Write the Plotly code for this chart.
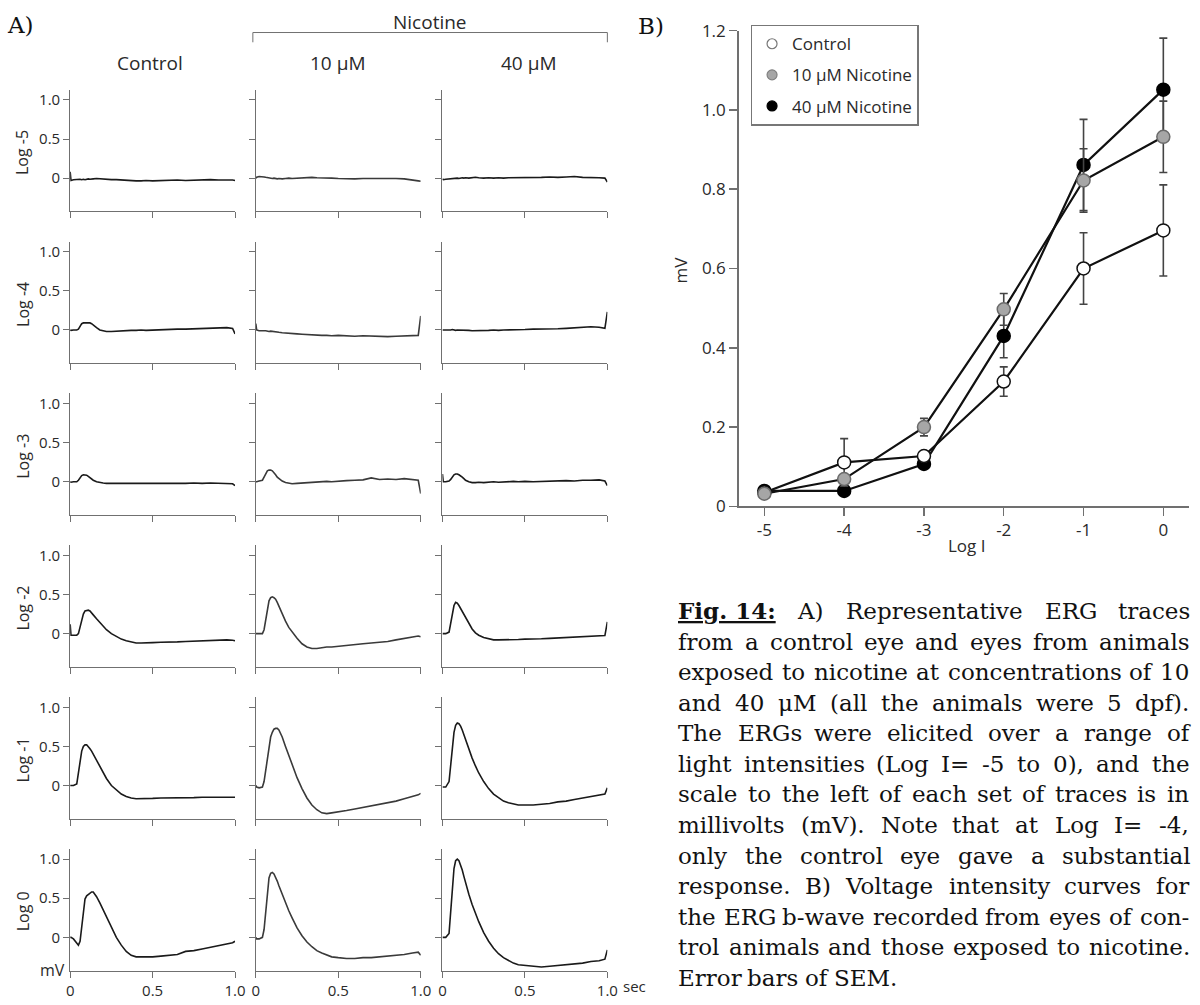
import plotly.graph_objects as go

# ---------------- Panel A data (ERG traces, mV vs seconds) ----------------
TIME_S = [0.000, 0.005, 0.02, 0.04, 0.05, 0.06, 0.07, 0.08, 0.09, 0.10,
          0.11, 0.12, 0.13, 0.14, 0.16, 0.18, 0.20, 0.22, 0.25, 0.28,
          0.31, 0.34, 0.37, 0.40, 0.43, 0.46, 0.50, 0.55, 0.60, 0.65,
          0.70, 0.75, 0.80, 0.85, 0.90, 0.95, 0.985, 1.000]

ROW_LABELS = ["Log -5", "Log -4", "Log -3", "Log -2", "Log -1", "Log 0"]
COL_TITLES = ["Control", "10 μM", "40 μM"]
Y_TICKS_A = [0, 0.5, 1.0]
Y_TICKTEXT_A = ["0", "0.5", "1.0"]
X_TICKS_A = [0, 0.5, 1.0]
X_TICKTEXT_A = ["0", "0.5", "1.0"]

ctrl_m5 = [0.08, -0.03, -0.02, -0.015, -0.02, -0.015, -0.02, -0.015, -0.02, -0.015,
           -0.01, -0.015, -0.01, -0.01, -0.005, -0.01, -0.01, -0.015, -0.02, -0.02,
           -0.025, -0.03, -0.03, -0.035, -0.035, -0.03, -0.035, -0.03, -0.03, -0.025,
           -0.03, -0.025, -0.025, -0.02, -0.025, -0.02, -0.025, -0.03]
nic10_m5 = [0.0, 0.01, 0.02, 0.02, 0.015, 0.01, 0.005, 0.0, 0.0, -0.005,
            0.0, -0.005, -0.01, -0.005, -0.01, -0.005, 0.0, -0.005, 0.0, 0.005,
            0.005, 0.01, 0.005, 0.005, 0.0, 0.0, -0.005, -0.01, -0.01, -0.005,
            -0.005, 0.0, 0.0, -0.005, -0.01, -0.03, -0.035, -0.04]
nic40_m5 = [-0.01, -0.02, -0.015, -0.01, -0.01, -0.005, -0.01, -0.005, 0.0, -0.005,
            0.0, 0.005, 0.0, 0.005, 0.0, 0.005, 0.01, 0.005, 0.0, 0.005,
            0.0, 0.005, 0.0, 0.005, 0.005, 0.01, 0.005, 0.01, 0.01, 0.015,
            0.01, 0.015, 0.02, 0.01, 0.01, 0.005, 0.0, -0.05]

ctrl_m4 = [0.0, -0.005, 0.0, 0.0, 0.01, 0.04, 0.08, 0.09, 0.09, 0.09,
           0.09, 0.09, 0.08, 0.06, 0.03, 0.0, -0.01, -0.02, -0.02, -0.015,
           -0.01, -0.01, -0.005, -0.005, 0.0, -0.005, 0.0, 0.005, 0.005, 0.01,
           0.01, 0.015, 0.02, 0.02, 0.025, 0.03, 0.02, -0.05]
nic10_m4 = [0.08, 0.0, -0.01, -0.005, -0.01, -0.01, -0.015, -0.02, -0.015, -0.02,
            -0.02, -0.025, -0.03, -0.03, -0.035, -0.04, -0.045, -0.05, -0.05, -0.055,
            -0.06, -0.06, -0.065, -0.07, -0.07, -0.075, -0.07, -0.075, -0.08, -0.075,
            -0.08, -0.08, -0.085, -0.08, -0.075, -0.075, -0.07, 0.18]
nic40_m4 = [0.0, 0.0, -0.005, 0.0, 0.0, 0.005, 0.0, -0.005, 0.0, 0.0,
            -0.005, 0.0, -0.005, 0.0, -0.005, -0.01, -0.01, -0.005, -0.01, -0.005,
            0.0, -0.005, 0.0, 0.0, 0.005, 0.0, 0.005, 0.01, 0.01, 0.015,
            0.015, 0.02, 0.025, 0.03, 0.04, 0.035, 0.02, 0.23]

ctrl_m3 = [0.0, -0.005, 0.0, 0.0, 0.02, 0.05, 0.08, 0.09, 0.09, 0.085,
           0.07, 0.05, 0.035, 0.02, 0.0, -0.01, -0.015, -0.02, -0.02, -0.02,
           -0.025, -0.02, -0.025, -0.02, -0.02, -0.025, -0.02, -0.02, -0.025, -0.02,
           -0.02, -0.015, -0.02, -0.015, -0.02, -0.02, -0.025, -0.05]
nic10_m3 = [0.0, 0.0, 0.01, 0.02, 0.06, 0.11, 0.14, 0.15, 0.15, 0.14,
            0.12, 0.09, 0.06, 0.04, 0.01, -0.01, -0.02, -0.025, -0.02, -0.015,
            -0.01, -0.005, 0.0, 0.0, 0.005, 0.0, 0.01, 0.015, 0.02, 0.025,
            0.05, 0.03, 0.035, 0.03, 0.04, 0.03, 0.02, -0.15]
nic40_m3 = [0.1, 0.0, 0.0, 0.01, 0.03, 0.07, 0.09, 0.1, 0.1, 0.09,
            0.08, 0.06, 0.04, 0.02, 0.0, -0.01, -0.01, -0.005, -0.01, -0.005,
            0.0, -0.005, 0.0, 0.0, 0.005, 0.0, 0.005, 0.0, 0.005, 0.01,
            0.01, 0.015, 0.01, 0.02, 0.02, 0.025, 0.01, -0.05]

ctrl_m2 = [0.12, -0.02, -0.02, -0.02, 0.0, 0.08, 0.18, 0.25, 0.29, 0.30,
           0.30, 0.29, 0.27, 0.24, 0.19, 0.14, 0.09, 0.05, 0.0, -0.04,
           -0.07, -0.09, -0.11, -0.12, -0.12, -0.12, -0.115, -0.11, -0.11, -0.105,
           -0.1, -0.095, -0.09, -0.085, -0.08, -0.08, -0.085, -0.09]
nic10_m2 = [0.0, 0.0, 0.0, 0.0, 0.05, 0.18, 0.32, 0.42, 0.46, 0.47,
            0.46, 0.44, 0.40, 0.35, 0.25, 0.16, 0.08, 0.02, -0.06, -0.13,
            -0.17, -0.19, -0.19, -0.18, -0.17, -0.17, -0.16, -0.15, -0.14, -0.13,
            -0.12, -0.11, -0.1, -0.08, -0.06, -0.04, -0.03, -0.04]
nic40_m2 = [0.0, 0.0, 0.0, 0.02, 0.12, 0.26, 0.36, 0.40, 0.39, 0.36,
            0.32, 0.28, 0.24, 0.20, 0.12, 0.06, 0.01, -0.02, -0.05, -0.07,
            -0.08, -0.08, -0.08, -0.08, -0.08, -0.075, -0.07, -0.07, -0.065, -0.06,
            -0.055, -0.05, -0.045, -0.04, -0.035, -0.03, -0.025, 0.15]

ctrl_m1 = [0.0, 0.0, 0.0, 0.02, 0.15, 0.32, 0.44, 0.50, 0.52, 0.52,
           0.50, 0.47, 0.44, 0.40, 0.32, 0.24, 0.16, 0.09, 0.0, -0.06,
           -0.11, -0.14, -0.16, -0.17, -0.17, -0.17, -0.165, -0.16, -0.16, -0.155,
           -0.16, -0.155, -0.15, -0.15, -0.15, -0.145, -0.15, -0.15]
nic10_m1 = [0.0, -0.02, -0.03, -0.02, 0.05, 0.2, 0.38, 0.52, 0.62, 0.68,
            0.72, 0.73, 0.73, 0.71, 0.62, 0.50, 0.38, 0.26, 0.10, -0.04,
            -0.16, -0.25, -0.31, -0.35, -0.36, -0.35, -0.34, -0.32, -0.30, -0.28,
            -0.26, -0.24, -0.22, -0.2, -0.17, -0.14, -0.12, -0.1]
nic40_m1 = [-0.02, -0.02, -0.02, 0.05, 0.25, 0.50, 0.68, 0.77, 0.80, 0.79,
            0.76, 0.71, 0.65, 0.58, 0.46, 0.35, 0.25, 0.16, 0.05, -0.04,
            -0.11, -0.16, -0.20, -0.22, -0.24, -0.25, -0.25, -0.25, -0.24, -0.23,
            -0.21, -0.2, -0.18, -0.16, -0.14, -0.12, -0.11, -0.03]

ctrl_0 = [0.0, 0.0, -0.02, -0.08, -0.1, -0.05, 0.15, 0.35, 0.49, 0.53,
          0.55, 0.57, 0.58, 0.58, 0.52, 0.44, 0.35, 0.26, 0.12, 0.0,
          -0.1, -0.18, -0.23, -0.25, -0.25, -0.25, -0.25, -0.24, -0.23, -0.22,
          -0.18, -0.17, -0.15, -0.13, -0.11, -0.09, -0.07, -0.05]
nic10_0 = [0.0, -0.02, -0.02, 0.0, 0.1, 0.35, 0.6, 0.76, 0.82, 0.83,
           0.81, 0.77, 0.72, 0.66, 0.55, 0.44, 0.34, 0.25, 0.12, 0.02,
           -0.06, -0.12, -0.17, -0.2, -0.23, -0.25, -0.26, -0.27, -0.27, -0.26,
           -0.26, -0.25, -0.24, -0.23, -0.22, -0.2, -0.19, -0.23]
nic40_0 = [0.0, 0.0, 0.0, 0.05, 0.3, 0.65, 0.88, 0.98, 1.0, 0.98,
           0.93, 0.86, 0.78, 0.70, 0.55, 0.42, 0.30, 0.2, 0.06, -0.05,
           -0.14, -0.21, -0.26, -0.3, -0.33, -0.35, -0.36, -0.37, -0.38, -0.37,
           -0.36, -0.35, -0.34, -0.33, -0.31, -0.3, -0.28, -0.16]

TRACES_A = [
    [ctrl_m5, nic10_m5, nic40_m5],
    [ctrl_m4, nic10_m4, nic40_m4],
    [ctrl_m3, nic10_m3, nic40_m3],
    [ctrl_m2, nic10_m2, nic40_m2],
    [ctrl_m1, nic10_m1, nic40_m1],
    [ctrl_0, nic10_0, nic40_0],
]

# ---------------- Panel B data ----------------
LOG_I = [-5, -4, -3, -2, -1, 0]
LOG_I_TICKTEXT = ["-5", "-4", "-3", "-2", "-1", "0"]
MV_TICKS = [0, 0.2, 0.4, 0.6, 0.8, 1.0, 1.2]
MV_TICKTEXT = ["0", "0.2", "0.4", "0.6", "0.8", "1.0", "1.2"]
CONTROL_MV = [0.035, 0.111, 0.127, 0.315, 0.600, 0.696]
CONTROL_SEM = [0.0, 0.060, 0.012, 0.037, 0.090, 0.115]
NIC10_MV = [0.032, 0.069, 0.200, 0.497, 0.822, 0.932]
NIC10_SEM = [0.0, 0.0, 0.022, 0.040, 0.080, 0.090]
NIC40_MV = [0.039, 0.039, 0.107, 0.430, 0.861, 1.051]
NIC40_SEM = [0.0, 0.0, 0.0, 0.055, 0.115, 0.130]
SERIES_NAMES = ["Control", "10 μM Nicotine", "40 μM Nicotine"]

CAPTION_LINES = [
    "Fig. 14: A) Representative ERG traces",
    "from a control eye and eyes from animals",
    "exposed to nicotine at concentrations of 10",
    "and 40 μM (all the animals were 5 dpf).",
    "The ERGs were elicited over a range of",
    "light intensities (Log I= -5 to 0), and the",
    "scale to the left of each set of traces is in",
    "millivolts (mV). Note that at Log I= -4,",
    "only the control eye gave a substantial",
    "response. B) Voltage intensity curves for",
    "the ERG b-wave recorded from eyes of con-",
    "trol animals and those exposed to nicotine.",
    "Error bars of SEM.",
]

# ---------------- Layout helpers ----------------
FW, FH = 1200, 1005


def px(x):
    return x / FW


def py(y):
    return 1 - y / FH


SANS = "Open Sans"
SERIF = "DejaVu Serif"
AX_COL = "#707070"
TXT_COL = "#2a2a2a"

fig = go.Figure()
layout = {}
annotations = []
shapes = []

COL_X0 = [67, 255, 444]
COL_W = 167
ROW_ZERO = [170 + 155.4 * r for r in range(6)]
MV_PX = 80.0
Y_LO, Y_HI = -0.425, 1.13

for r in range(6):
    z = ROW_ZERO[r]
    top = z - Y_HI * MV_PX
    bot = z - Y_LO * MV_PX
    for c in range(3):
        k = r * 3 + c + 1
        xa = "x" if k == 1 else f"x{k}"
        ya = "y" if k == 1 else f"y{k}"
        key_x = "xaxis" if k == 1 else f"xaxis{k}"
        key_y = "yaxis" if k == 1 else f"yaxis{k}"
        x0 = COL_X0[c]
        layout[key_x] = dict(
            domain=[px(x0), px(x0 + COL_W)], range=[0, 1.0], anchor=ya,
            showline=True, linecolor=AX_COL, linewidth=1, mirror=False,
            ticks="outside", ticklen=6, tickwidth=1, tickcolor=AX_COL,
            tickvals=X_TICKS_A, ticktext=X_TICKTEXT_A,
            showticklabels=(r == 5), showgrid=False, zeroline=False,
            tickfont=dict(family=SANS, size=15, color=TXT_COL), fixedrange=True,
        )
        layout[key_y] = dict(
            domain=[py(bot), py(top)], range=[Y_LO, Y_HI], anchor=xa,
            showline=True, linecolor=AX_COL, linewidth=1,
            ticks="outside", ticklen=6, tickwidth=1, tickcolor=AX_COL,
            tickvals=Y_TICKS_A, ticktext=Y_TICKTEXT_A,
            showticklabels=(c == 0), showgrid=False, zeroline=False,
            tickfont=dict(family=SANS, size=15, color=TXT_COL), fixedrange=True,
        )
        col = "#1a1a1a" if c != 1 else "#3a3a3a"
        fig.add_trace(go.Scatter(
            x=TIME_S, y=TRACES_A[r][c], mode="lines", xaxis=xa, yaxis=ya,
            line=dict(color=col, width=1.6), showlegend=False, hoverinfo="skip",
        ))
    annotations.append(dict(
        x=px(19), y=py(z - 0.33 * MV_PX), xref="paper", yref="paper",
        text=ROW_LABELS[r], textangle=-90, showarrow=False,
        font=dict(family=SANS, size=16, color=TXT_COL),
        xanchor="center", yanchor="middle",
    ))

TITLE_DX = [-3, 0, 4]
for c in range(3):
    annotations.append(dict(
        x=px(COL_X0[c] + COL_W / 2 + TITLE_DX[c]), y=py(52), xref="paper", yref="paper",
        text=COL_TITLES[c], showarrow=False,
        font=dict(family=SANS, size=19, color=TXT_COL),
        xanchor="center", yanchor="middle",
    ))
annotations.append(dict(
    x=px(431), y=py(10), xref="paper", yref="paper", text="Nicotine",
    showarrow=False, font=dict(family=SANS, size=19, color=TXT_COL),
    xanchor="center", yanchor="middle",
))
shapes.append(dict(
    type="path", xref="paper", yref="paper",
    path=(f"M {px(252)} {py(31)} L {px(252)} {py(21)} "
          f"L {px(611)} {py(21)} L {px(611)} {py(31)}"),
    line=dict(color=AX_COL, width=1),
))
annotations.append(dict(
    x=px(1), y=py(13), xref="paper", yref="paper", text="A)", showarrow=False,
    font=dict(family=SERIF, size=23, color="#111"), xanchor="left", yanchor="middle",
))
bottom_zero = ROW_ZERO[5]
annotations.append(dict(
    x=px(49), y=py(bottom_zero - Y_LO * MV_PX - 1), xref="paper", yref="paper",
    text="mV", showarrow=False,
    font=dict(family=SANS, size=16, color=TXT_COL), xanchor="center", yanchor="middle",
))
annotations.append(dict(
    x=px(625), y=py(bottom_zero - Y_LO * MV_PX + 16), xref="paper", yref="paper",
    text="sec", showarrow=False,
    font=dict(family=SANS, size=15, color=TXT_COL), xanchor="left", yanchor="middle",
))

# ---------------- Panel B ----------------
BX0, BX_M5, BX_0 = 744, 770, 1174
unit = (BX_0 - BX_M5) / 5.0
BY0, BY12 = 506, 19
layout["xaxis19"] = dict(
    domain=[px(BX0), 1.0], range=[-5 - (BX_M5 - BX0) / unit, (FW - BX_0) / unit],
    anchor="y19", showline=True, linecolor=AX_COL, linewidth=1.5,
    ticks="outside", ticklen=8, tickwidth=1.5, tickcolor=AX_COL,
    tickvals=LOG_I, ticktext=LOG_I_TICKTEXT, showgrid=False, zeroline=False,
    tickfont=dict(family=SANS, size=17, color=TXT_COL), fixedrange=True,
)
layout["yaxis19"] = dict(
    domain=[py(BY0), py(BY12)], range=[0, 1.2], anchor="x19",
    showline=True, linecolor=AX_COL, linewidth=1.5,
    ticks="outside", ticklen=8, tickwidth=1.5, tickcolor=AX_COL,
    tickvals=MV_TICKS, ticktext=MV_TICKTEXT, showgrid=False, zeroline=False,
    tickfont=dict(family=SANS, size=17, color=TXT_COL), fixedrange=True,
)

series_b = [
    (NIC40_MV, NIC40_SEM, "#000000", "#000000"),
    (CONTROL_MV, CONTROL_SEM, "#ffffff", "#111111"),
    (NIC10_MV, NIC10_SEM, "#a6a6a6", "#6a6a6a"),
]
for vals, sem, fill, edge in series_b:
    fig.add_trace(go.Scatter(
        x=LOG_I, y=vals, mode="lines+markers", xaxis="x19", yaxis="y19",
        line=dict(color="#111111", width=2.2),
        marker=dict(size=13, color=fill, line=dict(color=edge, width=1.5)),
        error_y=dict(type="data", array=sem, visible=True, color="#444444",
                     thickness=1.6, width=4),
        showlegend=False, cliponaxis=False, hoverinfo="skip",
    ))

legend_styles = [("#ffffff", "#777777"), ("#a6a6a6", "#808080"), ("#000000", "#000000")]
for i, (fill, edge) in enumerate(legend_styles):
    fig.add_trace(go.Scatter(
        x=[None], y=[None], mode="markers", xaxis="x19", yaxis="y19",
        name=SERIES_NAMES[i], legendgroup=f"g{i}",
        marker=dict(size=10, color=fill, line=dict(color=edge, width=1.2)),
        showlegend=True,
    ))

annotations.append(dict(
    x=px(975), y=py(546), xref="paper", yref="paper", text="Log I", showarrow=False,
    font=dict(family=SANS, size=17, color=TXT_COL), xanchor="center", yanchor="middle",
))
annotations.append(dict(
    x=px(686), y=py(264), xref="paper", yref="paper", text="mV", showarrow=False,
    textangle=-90, font=dict(family=SANS, size=17, color=TXT_COL),
    xanchor="center", yanchor="middle",
))
annotations.append(dict(
    x=px(640), y=py(14), xref="paper", yref="paper", text="B)", showarrow=False,
    font=dict(family=SERIF, size=23, color="#111"), xanchor="left", yanchor="middle",
))

# ---------------- Caption (justified word by word) ----------------
GLYPH_W = {
    'a': 1221, 'b': 1316, 'c': 1145, 'd': 1316, 'e': 1212, 'f': 756, 'g': 1316,
    'h': 1311, 'i': 655, 'j': 627, 'k': 1237, 'l': 655, 'm': 1966, 'n': 1311,
    'o': 1233, 'p': 1316, 'q': 1316, 'r': 979, 's': 1051, 't': 823, 'u': 1311,
    'v': 1188, 'w': 1735, 'x': 1188, 'y': 1188, 'z': 1075,
    'A': 1479, 'B': 1434, 'C': 1440, 'D': 1595, 'E': 1360, 'F': 1319, 'G': 1548,
    'H': 1714, 'I': 819, 'L': 1319, 'M': 2042, 'N': 1677, 'O': 1599, 'R': 1499,
    'S': 1321, 'T': 1376, 'V': 1479,
    '.': 651, ',': 651, ':': 690, '(': 799, ')': 799, '-': 739, '=': 1716,
    'μ': 1331, ' ': 651,
}
CAP_SIZE = 23


def text_w(s, size, bold=False):
    w = sum(GLYPH_W.get(ch, 1303 if ch.isdigit() else 1200) for ch in s)
    return w / 2048.0 * size * (1.08 if bold else 1.0)


CAP_L, CAP_R = 681, 1198
CAP_Y0, CAP_DY = 613, 31.3
for li, line in enumerate(CAPTION_LINES):
    words = line.split(" ")
    tokens = []
    if li == 0:
        tokens.append(("Fig. 14:", True))
        words = words[2:]
    tokens += [(w, False) for w in words]
    widths = [text_w(t, CAP_SIZE, b) for t, b in tokens]
    if li == len(CAPTION_LINES) - 1 or len(tokens) < 2:
        gap = text_w(" ", CAP_SIZE)
    else:
        gap = (CAP_R - CAP_L - sum(widths)) / (len(tokens) - 1)
    x = CAP_L
    yc = CAP_Y0 + li * CAP_DY
    for (t, b), w in zip(tokens, widths):
        txt = f"<b><u>{t}</u></b>" if b else t
        annotations.append(dict(
            x=px(x), y=py(yc), xref="paper", yref="paper", text=txt,
            showarrow=False, xanchor="left", yanchor="middle",
            font=dict(family=SERIF, size=CAP_SIZE, color="#111111"),
        ))
        x += w + gap

layout.update(dict(
    width=FW, height=FH, margin=dict(l=0, r=0, t=0, b=0),
    paper_bgcolor="white", plot_bgcolor="white",
    showlegend=True,
    legend=dict(
        x=px(756), y=py(13), xanchor="left", yanchor="top",
        bgcolor="white", bordercolor="#777777", borderwidth=1.5,
        font=dict(family=SANS, size=17, color=TXT_COL),
        itemsizing="trace", itemwidth=30, tracegroupgap=6,
        traceorder="grouped",
    ),
    annotations=annotations, shapes=shapes,
))
fig.update_layout(**layout)
fig.write_html(
    "out.html",
    config={"displayModeBar": False, "staticPlot": True},
    post_script="document.body.style.margin='0px';document.body.style.overflow='hidden';",
)
